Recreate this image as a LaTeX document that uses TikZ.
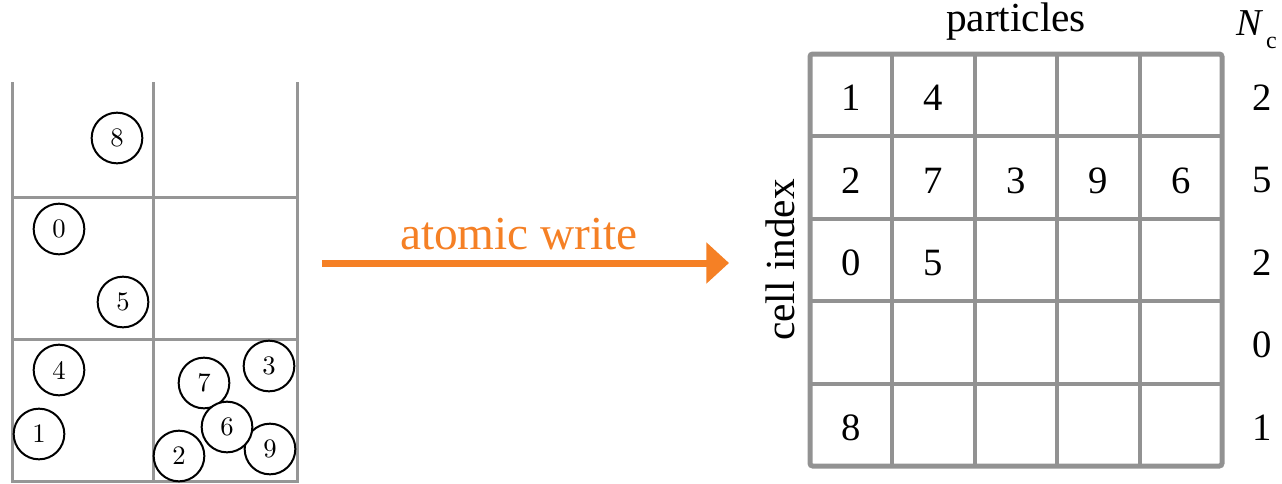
\documentclass[tikz,border=0pt]{standalone}
\usepackage{fontspec}
\newfontfamily\tms{Liberation Serif}
\newfontfamily\cmten{lmroman10-regular.otf}
\usetikzlibrary{arrows.meta}
\definecolor{gridgray}{RGB}{150,150,150}
\definecolor{tablegray}{RGB}{146,146,146}
\definecolor{writeorange}{RGB}{245,128,37}

\begin{document}
\begin{tikzpicture}[x=0.75pt,y=-0.75pt,
  cellwall/.style={draw=gridgray,line width=2.25pt},
  particle/.style={circle,draw=black,line width=1.5pt,fill=white,
    minimum size=38pt,inner sep=0pt,font=\cmten\fontsize{20}{20}\selectfont},
  tabline/.style={draw=tablegray,line width=3pt},
  entry/.style={inner sep=0pt,font=\tms\fontsize{29}{30}\selectfont},
  caption/.style={inner sep=0pt,font=\tms\fontsize{31}{32}\selectfont},
]
\useasboundingbox (0,0) rectangle (1282,483);

% spatial cells (open at the top)
\draw[cellwall] (12,82) -- (12,481) -- (297,481) -- (297,82);
\draw[cellwall] (153,82) -- (153,481);
\draw[cellwall] (12,197) -- (297,197);
\draw[cellwall] (12,339) -- (297,339);

% particles
\node[particle] (p8) at (117,138) {8};
\node[particle] (p0) at (59,229) {0};
\node[particle] (p5) at (123,302) {5};
\node[particle] (p4) at (59,370) {4};
\node[particle] (p1) at (39,434) {1};
\node[particle] (p3) at (269,366) {3};
\node[particle] (p7) at (204,383) {7};
\node[particle] (p9) at (270,449) {9};
\node[particle] (p2) at (179,456) {2};
\node[particle] (p6) at (227,427) {6};

% atomic write arrow
\coordinate (wfrom) at (322,263);
\coordinate (wto) at (729,263);
\draw[writeorange,line width=5.25pt,-{Triangle[length=17pt,width=30pt]}] (wfrom) -- (wto);
\node[inner sep=0pt,text=writeorange,font=\tms\fontsize{35.5}{36}\selectfont] (wlabel) at (519,234) {atomic write};

% cell list table
\foreach \i in {1,...,4} {
  \draw[tabline] ({810+82.4*\i},54) -- ({810+82.4*\i},466);
  \draw[tabline] (810,{54+82.4*\i}) -- (1222,{54+82.4*\i});
}
\draw[draw=tablegray,line width=3.75pt,rounded corners=2pt] (810,54) rectangle (1222,466);

\node[entry] (e11) at (851.2,98) {1};
\node[entry] (e12) at (933.6,98) {4};
\node[entry] (e21) at (851.2,180.5) {2};
\node[entry] (e22) at (933.6,180.5) {7};
\node[entry] (e23) at (1016,180.5) {3};
\node[entry] (e24) at (1098.4,180.5) {9};
\node[entry] (e25) at (1180.8,180.5) {6};
\node[entry] (e31) at (851.2,263) {0};
\node[entry] (e32) at (933.6,263) {5};
\node[entry] (e51) at (851.2,427.5) {8};

% particle counts per cell
\node[entry] (n1) at (1262,98) {2};
\node[entry] (n2) at (1262,180.5) {5};
\node[entry] (n3) at (1262,263) {2};
\node[entry] (n4) at (1262,345) {0};
\node[entry] (n5) at (1262,427.5) {1};

% axis captions
\node[caption,anchor=base] (ptitle) at (1016,31) {particles};
\node[caption,rotate=90] (ctitle) at (780,260) {cell index};
\node[inner sep=0pt,anchor=base west,font=\tms\fontsize{28.5}{30}\selectfont] (nctitle) at (1236,35)
  {\textit{N}\kern2pt\raisebox{-9.75pt}{\fontsize{18}{18}\selectfont c}};
\end{tikzpicture}
\end{document}
